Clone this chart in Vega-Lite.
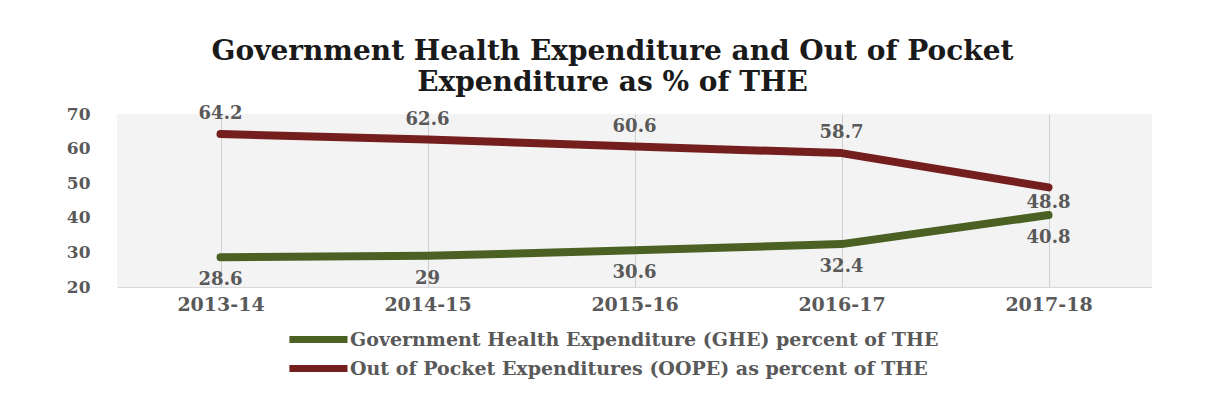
{
  "$schema": "https://vega.github.io/schema/vega-lite/v6.json",
  "width": 1035,
  "height": 173,
  "autosize": {"type": "none"},
  "padding": {"left": 117, "top": 114, "right": 55, "bottom": 124},
  "background": "white",
  "title": {
    "text": ["Government Health Expenditure and Out of Pocket", "Expenditure as % of THE"],
    "font": "DejaVu Serif",
    "fontSize": 28,
    "fontWeight": "bold",
    "color": "#1a1a1a",
    "anchor": "middle",
    "dx": -22,
    "offset": 8,
    "lineHeight": 31
  },
  "data": {
    "values": [
      {"year": "2013-14", "series": "Government Health Expenditure (GHE) percent of THE", "value": 28.6},
      {"year": "2014-15", "series": "Government Health Expenditure (GHE) percent of THE", "value": 29},
      {"year": "2015-16", "series": "Government Health Expenditure (GHE) percent of THE", "value": 30.6},
      {"year": "2016-17", "series": "Government Health Expenditure (GHE) percent of THE", "value": 32.4},
      {"year": "2017-18", "series": "Government Health Expenditure (GHE) percent of THE", "value": 40.8},
      {"year": "2013-14", "series": "Out of Pocket Expenditures (OOPE) as percent of THE", "value": 64.2},
      {"year": "2014-15", "series": "Out of Pocket Expenditures (OOPE) as percent of THE", "value": 62.6},
      {"year": "2015-16", "series": "Out of Pocket Expenditures (OOPE) as percent of THE", "value": 60.6},
      {"year": "2016-17", "series": "Out of Pocket Expenditures (OOPE) as percent of THE", "value": 58.7},
      {"year": "2017-18", "series": "Out of Pocket Expenditures (OOPE) as percent of THE", "value": 48.8}
    ]
  },
  "encoding": {
    "x": {
      "field": "year",
      "type": "ordinal",
      "scale": {"type": "point", "padding": 0.5},
      "axis": {
        "title": null,
        "labelAngle": 0,
        "labelFont": "DejaVu Serif",
        "labelFontSize": 19,
        "labelFontWeight": "bold",
        "labelColor": "#595959",
        "labelPadding": 8,
        "ticks": false,
        "domain": true,
        "domainColor": "#d9d9d9",
        "grid": true,
        "gridColor": "#d0d0d0",
        "gridWidth": 1
      }
    },
    "y": {
      "field": "value",
      "type": "quantitative",
      "scale": {"domain": [20, 70], "nice": false, "zero": false},
      "axis": {
        "title": null,
        "values": [20, 30, 40, 50, 60, 70],
        "labelFont": "DejaVu Serif",
        "labelFontSize": 17,
        "labelFontWeight": "bold",
        "labelColor": "#595959",
        "labelPadding": 27,
        "ticks": false,
        "domain": false,
        "grid": false
      }
    }
  },
  "layer": [
    {
      "mark": {"type": "line", "strokeWidth": 8, "strokeCap": "round", "strokeJoin": "round"},
      "encoding": {
        "color": {
          "field": "series",
          "type": "nominal",
          "scale": {
            "domain": ["Government Health Expenditure (GHE) percent of THE", "Out of Pocket Expenditures (OOPE) as percent of THE"],
            "range": ["#4b6123", "#741e1e"]
          },
          "legend": {
            "title": null,
            "orient": "none",
            "legendX": 213,
            "legendY": 215,
            "direction": "vertical",
            "symbolType": "M-7.3,0H1",
            "symbolSize": 196,
            "symbolStrokeWidth": 7,
            "symbolStrokeCap": "round",
            "labelFont": "DejaVu Serif",
            "labelFontSize": 19,
            "labelFontWeight": "bold",
            "labelColor": "#595959",
            "labelOffset": -1,
            "rowPadding": 0,
            "labelLimit": 900
          }
        }
      }
    },
    {
      "transform": [
        {"filter": "datum.series == 'Out of Pocket Expenditures (OOPE) as percent of THE' && datum.year != '2017-18'"}
      ],
      "mark": {"type": "text", "dy": -20, "font": "DejaVu Serif", "fontSize": 18, "fontWeight": "bold", "color": "#595959"},
      "encoding": {"text": {"field": "value", "type": "quantitative"}}
    },
    {
      "transform": [
        {"filter": "datum.series == 'Out of Pocket Expenditures (OOPE) as percent of THE' && datum.year == '2017-18'"}
      ],
      "mark": {"type": "text", "dy": 16, "font": "DejaVu Serif", "fontSize": 18, "fontWeight": "bold", "color": "#595959"},
      "encoding": {"text": {"field": "value", "type": "quantitative"}}
    },
    {
      "transform": [
        {"filter": "datum.series == 'Government Health Expenditure (GHE) percent of THE'"}
      ],
      "mark": {"type": "text", "dy": 23, "font": "DejaVu Serif", "fontSize": 18, "fontWeight": "bold", "color": "#595959"},
      "encoding": {"text": {"field": "value", "type": "quantitative"}}
    }
  ],
  "config": {
    "view": {"fill": "#f3f3f3", "stroke": null}
  }
}
